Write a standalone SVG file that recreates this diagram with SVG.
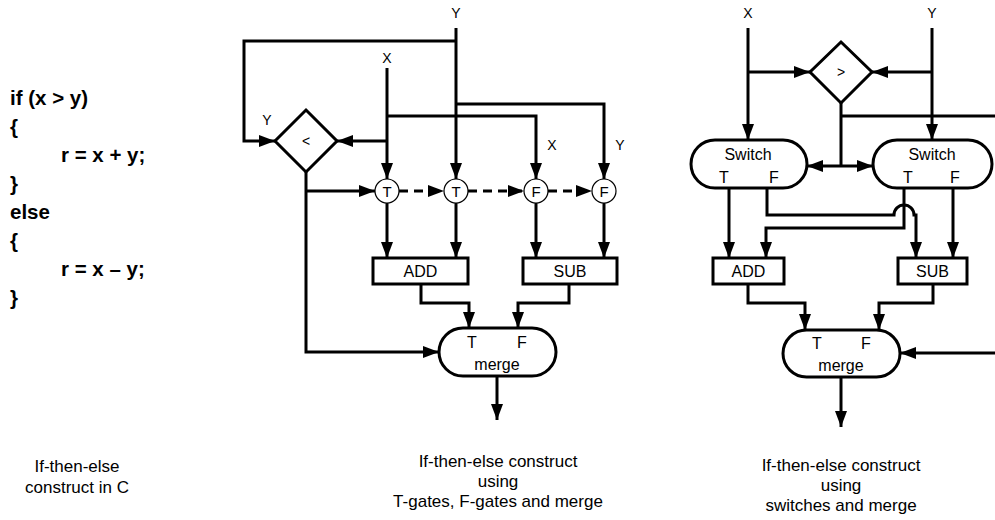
<svg xmlns="http://www.w3.org/2000/svg" width="995" height="520" viewBox="0 0 995 520">
<defs>
<marker id="ah" viewBox="0 0 16 12" refX="16" refY="6" markerWidth="16" markerHeight="12" markerUnits="userSpaceOnUse" orient="auto">
<path d="M0,0 L16,6 L0,12 z" fill="#000"/>
</marker>
<style>
.w{fill:none;stroke:#000;stroke-width:3}
.a{marker-end:url(#ah)}
.d{stroke-dasharray:9 6}
.box{fill:#fff;stroke:#000;stroke-width:3}
.gate{fill:#fff;stroke:#000;stroke-width:1.2}
.code{font-family:"Liberation Sans",Arial,sans-serif;font-weight:bold;font-size:20.5px;fill:#000}
.lbl{font-family:"Liberation Sans",Arial,sans-serif;font-size:14px;fill:#000;text-anchor:middle}
.g{font-family:"Liberation Sans",Arial,sans-serif;font-size:15px;fill:#000;text-anchor:middle}
.t{font-family:"Liberation Sans",Arial,sans-serif;font-size:16px;fill:#000;text-anchor:middle}
.cap{font-family:"Liberation Sans",Arial,sans-serif;font-size:17px;fill:#000;text-anchor:middle}
</style>
</defs>
<rect width="995" height="520" fill="#fff"/>

<g id="code">
<text class="code" x="10" y="105">if (x &gt; y)</text>
<text class="code" x="10" y="133.5">{</text>
<text class="code" x="61" y="162">r = x + y;</text>
<text class="code" x="10" y="190.5">}</text>
<text class="code" x="10" y="219">else</text>
<text class="code" x="10" y="247.5">{</text>
<text class="code" x="61" y="276">r = x – y;</text>
<text class="code" x="10" y="304.5">}</text>
</g>

<g id="connectors">
<!-- left diagram -->
<path class="w a" d="M456,28 V179"/>
<path class="w a" d="M456,41 H244 V141 H275"/>
<path class="w a" d="M387,68 V179"/>
<path class="w a" d="M387,141 H337"/>
<path class="w a" d="M387,116 H536 V179"/>
<path class="w a" d="M456,104 H604 V179"/>
<path class="w a" d="M306,172 V352 H439"/>
<path class="w a" d="M306,191 H375"/>
<path class="w a d" d="M399,191 H444"/>
<path class="w a d" d="M468,191 H524"/>
<path class="w a d" d="M548,191 H592"/>
<path class="w a" d="M387,203 V258"/>
<path class="w a" d="M456,203 V258"/>
<path class="w a" d="M536,203 V258"/>
<path class="w a" d="M604,203 V258"/>
<path class="w a" d="M421,284 V303 H469 V328"/>
<path class="w a" d="M569,284 V303 H518 V328"/>
<path class="w a" d="M497,376 V420"/>
<!-- right diagram -->
<path class="w a" d="M748,28 V140"/>
<path class="w a" d="M748,72 H810"/>
<path class="w a" d="M932,28 V140"/>
<path class="w a" d="M932,72 H872"/>
<path class="w" d="M841,103 V166"/>
<path class="w" d="M841,116 H995"/>
<path class="w a" d="M841,166 H807"/>
<path class="w a" d="M841,166 H873"/>
<path class="w a" d="M729,188 V258"/>
<path class="w a" d="M767,188 V215 H894 A10,10 0 0 1 914,215 H916 V258"/>
<path class="w a" d="M904,188 V228 H766 V258"/>
<path class="w a" d="M953,188 V258"/>
<path class="w a" d="M748,284 V303 H805 V330"/>
<path class="w a" d="M933,284 V303 H879 V330"/>
<path class="w a" d="M841,377 V427"/>
<path class="w a" d="M995,353 H900"/>
</g>

<g id="labels">
<text class="lbl" x="456" y="18">Y</text>
<text class="lbl" x="267" y="125">Y</text>
<text class="lbl" x="387" y="63">X</text>
<text class="lbl" x="552" y="150">X</text>
<text class="lbl" x="620" y="150">Y</text>
<text class="lbl" x="748" y="18">X</text>
<text class="lbl" x="932" y="18">Y</text>
</g>

<g id="cmp-lt">
<polygon class="box" points="306,110 337,141 306,172 275,141"/>
<text class="lbl" x="306" y="146">&lt;</text>
</g>
<g id="gate-t1"><circle class="gate" cx="387" cy="191" r="12"/><text class="g" x="387" y="196.5">T</text></g>
<g id="gate-t2"><circle class="gate" cx="456" cy="191" r="12"/><text class="g" x="456" y="196.5">T</text></g>
<g id="gate-f1"><circle class="gate" cx="536" cy="191" r="12"/><text class="g" x="536" y="196.5">F</text></g>
<g id="gate-f2"><circle class="gate" cx="604" cy="191" r="12"/><text class="g" x="604" y="196.5">F</text></g>
<g id="add1"><rect class="box" x="373" y="258" width="95" height="26"/><text class="t" x="420.5" y="277">ADD</text></g>
<g id="sub1"><rect class="box" x="523" y="258" width="94" height="26"/><text class="t" x="570" y="277">SUB</text></g>
<g id="merge1">
<rect class="box" x="439" y="328" width="117" height="48" rx="24"/>
<text class="t" x="472" y="348">T</text>
<text class="t" x="522" y="348">F</text>
<text class="t" x="497" y="370">merge</text>
</g>

<g id="cmp-gt">
<polygon class="box" points="841,42 872,72 841,103 810,72"/>
<text class="lbl" x="841" y="77">&gt;</text>
</g>
<g id="switch1">
<rect class="box" x="691" y="140" width="116" height="48" rx="24"/>
<text class="t" x="748" y="160">Switch</text>
<text class="t" x="724" y="183">T</text>
<text class="t" x="774" y="183">F</text>
</g>
<g id="switch2">
<rect class="box" x="873" y="140" width="119" height="48" rx="24"/>
<text class="t" x="932" y="160">Switch</text>
<text class="t" x="908" y="183">T</text>
<text class="t" x="955" y="183">F</text>
</g>
<g id="add2"><rect class="box" x="713" y="258" width="71" height="26"/><text class="t" x="748.5" y="277">ADD</text></g>
<g id="sub2"><rect class="box" x="898" y="258" width="69" height="26"/><text class="t" x="932.5" y="277">SUB</text></g>
<g id="merge2">
<rect class="box" x="783" y="330" width="117" height="47" rx="23.5"/>
<text class="t" x="817" y="349">T</text>
<text class="t" x="866" y="349">F</text>
<text class="t" x="841" y="371">merge</text>
</g>

<g id="captions">
<text class="cap" x="77" y="472">If-then-else</text>
<text class="cap" x="77" y="493">construct in C</text>
<text class="cap" x="498" y="467">If-then-else construct</text>
<text class="cap" x="498" y="487">using</text>
<text class="cap" x="498" y="507">T-gates, F-gates and merge</text>
<text class="cap" x="841" y="471">If-then-else construct</text>
<text class="cap" x="841" y="491">using</text>
<text class="cap" x="841" y="511">switches and merge</text>
</g>
</svg>
